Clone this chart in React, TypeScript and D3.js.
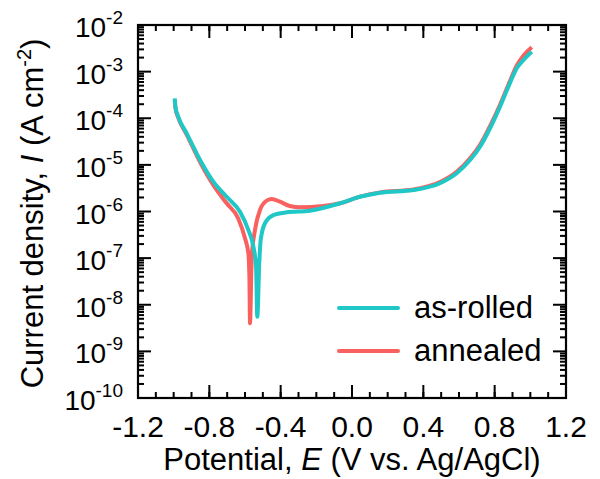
import React from 'react';
import * as d3 from 'd3';

// as-rolled polarisation curve (E in V vs Ag/AgCl, I in A cm^-2)
const potentialRolled = [-0.994, -0.990, -0.975, -0.927, -0.852, -0.778, -0.703, -0.628, -0.581, -0.553, -0.538, -0.531, -0.520, -0.512, -0.488, -0.441, -0.366, -0.236, -0.067, 0.045, 0.157, 0.344, 0.493, 0.587, 0.662, 0.718, 0.774, 0.830, 0.877, 0.924, 0.961, 1.008];
const currentRolled = [2.68e-4, 1.75e-4, 1.10e-4, 4.75e-5, 1.27e-5, 4.36e-6, 2.07e-6, 9.9e-7, 4.0e-7, 1.76e-7, 6.5e-8, 5.5e-9, 7.9e-8, 2.45e-7, 5.6e-7, 8.4e-7, 9.6e-7, 1.04e-6, 1.50e-6, 2.07e-6, 2.53e-6, 2.89e-6, 4.03e-6, 6.6e-6, 1.27e-5, 2.45e-5, 6.1e-5, 1.77e-4, 4.75e-4, 1.18e-3, 1.77e-3, 2.67e-3];

// annealed polarisation curve
const potentialAnnealed = [-0.994, -0.990, -0.975, -0.927, -0.852, -0.778, -0.703, -0.638, -0.600, -0.581, -0.575, -0.572, -0.562, -0.544, -0.516, -0.478, -0.450, -0.404, -0.348, -0.292, -0.161, -0.067, 0.045, 0.157, 0.344, 0.493, 0.587, 0.662, 0.718, 0.774, 0.830, 0.877, 0.924, 0.961, 1.008];
const currentAnnealed = [2.51e-4, 1.65e-4, 1.04e-4, 4.47e-5, 1.15e-5, 3.70e-6, 1.50e-6, 7.1e-7, 2.66e-7, 1.27e-7, 3.4e-8, 4.0e-9, 1.07e-7, 4.0e-7, 1.08e-6, 1.71e-6, 1.85e-6, 1.62e-6, 1.31e-6, 1.23e-6, 1.31e-6, 1.50e-6, 2.09e-6, 2.57e-6, 2.95e-6, 4.27e-6, 7.1e-6, 1.38e-5, 2.69e-5, 6.8e-5, 1.95e-4, 5.2e-4, 1.35e-3, 2.19e-3, 3.33e-3];

const xTickLabels = ['-1.2', '-0.8', '-0.4', '0.0', '0.4', '0.8', '1.2'];
const yExponents = [-10, -9, -8, -7, -6, -5, -4, -3, -2];
const seriesNames = ['as-rolled', 'annealed'];

const CYAN = '#1fc7c7';
const RED = '#f8615f';
const FONT = '"Liberation Sans", Arial, sans-serif';

export default function App() {
  const left = 138, right = 566, top = 25, bottom = 398;
  const x = d3.scaleLinear().domain([-1.2, 1.2]).range([left, right]);
  const y = d3.scaleLog().domain([1e-10, 1e-2]).range([bottom, top]);

  const line = d3
    .line<[number, number]>()
    .x((d) => x(d[0]))
    .y((d) => y(d[1]))
    .curve(d3.curveMonotoneX);

  const rolled = potentialRolled.map((e, i) => [e, currentRolled[i]] as [number, number]);
  const annealed = potentialAnnealed.map((e, i) => [e, currentAnnealed[i]] as [number, number]);

  const xMinor = d3.range(-12, 13).map((k) => k / 10);
  const xMajor = xTickLabels.map((t) => +t);
  const yMinor: number[] = [];
  yExponents.slice(0, -1).forEach((p) => {
    for (let k = 2; k <= 9; k++) yMinor.push(k * Math.pow(10, p));
  });

  const tk = { stroke: '#000', strokeWidth: 2 };

  return (
    <svg width={600} height={479} style={{ position: 'absolute', left: 0, top: 0, background: '#fff' }}>
      {/* ticks, inward on all sides */}
      {xMinor.map((v) => (
        <g key={'xm' + v}>
          <line x1={x(v)} x2={x(v)} y1={bottom} y2={bottom - 6} {...tk} />
          <line x1={x(v)} x2={x(v)} y1={top} y2={top + 6} {...tk} />
        </g>
      ))}
      {xMajor.map((v) => (
        <g key={'xM' + v}>
          <line x1={x(v)} x2={x(v)} y1={bottom} y2={bottom - 13} {...tk} />
          <line x1={x(v)} x2={x(v)} y1={top} y2={top + 13} {...tk} />
        </g>
      ))}
      {yMinor.map((v) => (
        <g key={'ym' + v}>
          <line x1={left} x2={left + 6} y1={y(v)} y2={y(v)} {...tk} />
          <line x1={right} x2={right - 6} y1={y(v)} y2={y(v)} {...tk} />
        </g>
      ))}
      {yExponents.map((p) => (
        <g key={'yM' + p}>
          <line x1={left} x2={left + 13} y1={y(Math.pow(10, p))} y2={y(Math.pow(10, p))} {...tk} />
          <line x1={right} x2={right - 13} y1={y(Math.pow(10, p))} y2={y(Math.pow(10, p))} {...tk} />
        </g>
      ))}
      <rect x={left} y={top} width={right - left} height={bottom - top} fill="none" stroke="#000" strokeWidth={2.2} />

      {/* curves */}
      <path d={line(annealed) || ''} fill="none" stroke={RED} strokeWidth={4} strokeLinejoin="round" />
      <path d={line(rolled) || ''} fill="none" stroke={CYAN} strokeWidth={4} strokeLinejoin="round" />

      {/* tick labels */}
      <g fontFamily={FONT} fill="#000">
        {xTickLabels.map((t) => (
          <text key={t} x={x(+t)} y={437} fontSize={30} textAnchor="middle">{t}</text>
        ))}
        {yExponents.map((p) => (
          <text key={p} x={123} y={y(Math.pow(10, p)) + 12} fontSize={28} textAnchor="end">
            10<tspan fontSize={19} dy={-13}>{p}</tspan>
          </text>
        ))}
      </g>

      {/* axis titles */}
      <text x={(left + right) / 2} y={470} fontFamily={FONT} fontSize={31} textAnchor="middle">
        Potential, <tspan fontStyle="italic">E</tspan> (V vs. Ag/AgCl)
      </text>
      <text transform={`translate(43, ${(top + bottom) / 2 + 2}) rotate(-90)`} fontFamily={FONT} fontSize={31} textAnchor="middle">
        Current density, <tspan fontStyle="italic">I</tspan> (A cm<tspan fontSize={20} dy={-12}>-2</tspan><tspan dy={12}>)</tspan>
      </text>

      {/* legend */}
      {seriesNames.map((n, i) => (
        <g key={n} transform={`translate(339, ${308 + i * 43})`}>
          <line x1={0} x2={59} y1={0} y2={0} stroke={i === 0 ? CYAN : RED} strokeWidth={4} strokeLinecap="round" />
          <text x={75} y={10} fontFamily={FONT} fontSize={31}>{n}</text>
        </g>
      ))}
    </svg>
  );
}
